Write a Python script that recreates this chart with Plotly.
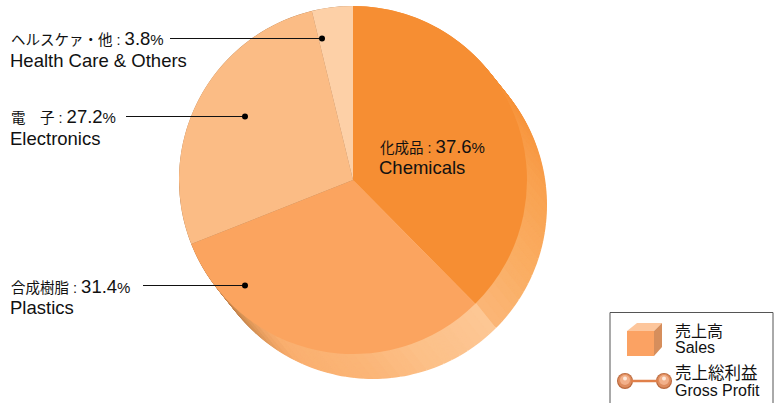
import plotly.graph_objects as go

W, H = 774, 403
JP = "Liberation Sans, Noto Sans CJK JP, sans-serif"

# Share of sales
seg_ja = ["化成品", "合成樹脂", "電　子", "ヘルスケァ・他"]
seg_en = ["Chemicals", "Plastics", "Electronics", "Health Care & Others"]
seg_values = [37.6, 31.4, 27.2, 3.8]
seg_colors = ["#F68E33", "#FBA45F", "#FBBC85", "#FDD0A7"]

# Rim shading anchors: degrees clockwise from the top -> colour
rim_anchor_deg = [0, 50, 90, 115, 135.3, 135.4, 160, 180, 205, 212, 220, 228, 240, 360]
rim_anchor_rgb = [(246, 142, 51), (246, 142, 51), (249, 163, 82), (250, 174, 100), (251, 182, 119),
                  (253, 199, 149), (252, 192, 136), (251, 181, 119), (250, 176, 112),
                  (240, 165, 102), (218, 149, 88), (196, 132, 77), (170, 114, 68), (170, 114, 68)]
rim_step_deg = 3
rim_offsets = list(range(30, -1, -1))

# Leader lines
leader_x0 = [170, 126, 143]
leader_x1 = [322, 245, 245]
leader_y = [38, 116, 285]


def rim_color(deg):
    for i in range(len(rim_anchor_deg) - 1):
        a, b = rim_anchor_deg[i], rim_anchor_deg[i + 1]
        if a <= deg <= b:
            t = (deg - a) / (b - a)
            c = [round(p + (q - p) * t) for p, q in zip(rim_anchor_rgb[i], rim_anchor_rgb[i + 1])]
            return f"rgb({c[0]},{c[1]},{c[2]})"
    return "rgb(170,114,68)"


rim_arcs = [rim_step_deg] * (360 // rim_step_deg)
rim_colors = [rim_color(i * rim_step_deg + rim_step_deg / 2) for i in range(len(rim_arcs))]


def px(x):
    return x / W


def py(y):
    return 1 - y / H


cx, cy, r = 353, 180, 174
dx, dy = 20, 25


def dom(ox, oy):
    return dict(x=[px(cx + ox - r), px(cx + ox + r)], y=[py(cy + oy + r), py(cy + oy - r)])


fig = go.Figure()

# Legend balls live on a hidden cartesian layer
ball_x = [625, 664]
for size, color, shift in [(16, "#B9683C", 0), (14, "#DE8C5E", -0.3), (10, "#F2B08A", -1), (4, "#FDE9DC", -2.5)]:
    fig.add_trace(go.Scatter(
        x=ball_x, y=[381 + shift] * 2, mode="markers", showlegend=False, hoverinfo="skip",
        marker=dict(size=size, color=color, line=dict(width=0))))

for s in rim_offsets:
    k = s / rim_offsets[0]
    fig.add_trace(go.Pie(
        values=rim_arcs, sort=False, direction="clockwise", rotation=0,
        marker=dict(colors=rim_colors, line=dict(width=0)),
        textinfo="none", hoverinfo="skip", showlegend=False,
        domain=dom(dx * k, dy * k)))

fig.add_trace(go.Pie(
    values=seg_values, labels=seg_en, sort=False, direction="clockwise", rotation=0,
    marker=dict(colors=seg_colors, line=dict(width=0)),
    textinfo="none", hoverinfo="label+percent", showlegend=False,
    domain=dom(0, 0)))

shapes = []
for x0, x1, y in zip(leader_x0, leader_x1, leader_y):
    shapes.append(dict(type="line", xref="paper", yref="paper", x0=px(x0), x1=px(x1),
                       y0=py(y + 0.5), y1=py(y + 0.5), line=dict(color="#111111", width=1)))
    shapes.append(dict(type="circle", xref="paper", yref="paper",
                       x0=px(x1 - 3), x1=px(x1 + 3), y0=py(y + 3.5), y1=py(y - 2.5),
                       fillcolor="#000000", line=dict(width=0)))


def poly(points, fill):
    d = "M" + " L".join(f"{px(a):.5f},{py(b):.5f}" for a, b in points) + " Z"
    return dict(type="path", xref="paper", yref="paper", path=d,
                fillcolor=fill, line=dict(width=0))


shapes.append(dict(type="rect", xref="paper", yref="paper", x0=px(610), x1=px(773),
                   y0=py(404), y1=py(312.5), line=dict(color="#555555", width=1),
                   fillcolor="rgba(0,0,0,0)"))
shapes.append(poly([(627, 331), (654, 331), (654, 356), (627, 356)], "#FBA263"))
shapes.append(poly([(627, 331), (637, 323), (662, 323), (654, 331)], "#FDC69C"))
shapes.append(poly([(654, 331), (662, 323), (662, 347), (654, 356)], "#D68E5C"))
shapes.append(dict(type="line", xref="paper", yref="paper", x0=px(631), x1=px(658),
                   y0=py(381), y1=py(381), line=dict(color="#E0804A", width=2.5)))


def label(x, y, text, size=18.5):
    return dict(x=px(x), y=py(y), xref="paper", yref="paper", text=text, showarrow=False,
                xanchor="left", yanchor="middle", align="left", borderpad=0,
                font=dict(family=JP, size=size, color="#111111"))


def head(ja, val):
    return (f'<span style="font-size:14.5px">{ja} : </span>{val}'
            f'<span style="font-size:15px">%</span>')


ann = [
    label(10, 38, head(seg_ja[3], seg_values[3])),
    label(9, 61, seg_en[3]),
    label(10, 116, head(seg_ja[2], seg_values[2])),
    label(9, 138, seg_en[2]),
    label(10, 286, head(seg_ja[1], seg_values[1])),
    label(9, 307, seg_en[1]),
    label(379, 146, head(seg_ja[0], seg_values[0])),
    label(378, 168, seg_en[0]),
    label(674, 331, "売上高", 16),
    label(674, 347, "Sales", 16),
    label(674, 373, "売上総利益", 16.5),
    label(674, 390, "Gross Profit", 16),
]

fig.update_layout(
    width=W, height=H, autosize=False,
    margin=dict(l=0, r=0, t=0, b=0),
    paper_bgcolor="white", plot_bgcolor="rgba(0,0,0,0)",
    xaxis=dict(range=[0, W], visible=False, fixedrange=True),
    yaxis=dict(range=[H, 0], visible=False, fixedrange=True),
    showlegend=False, shapes=shapes, annotations=ann,
)
fig.write_html("out.html", config=dict(displayModeBar=False),
               post_script="document.body.style.margin='0';document.body.style.overflow='hidden';")
